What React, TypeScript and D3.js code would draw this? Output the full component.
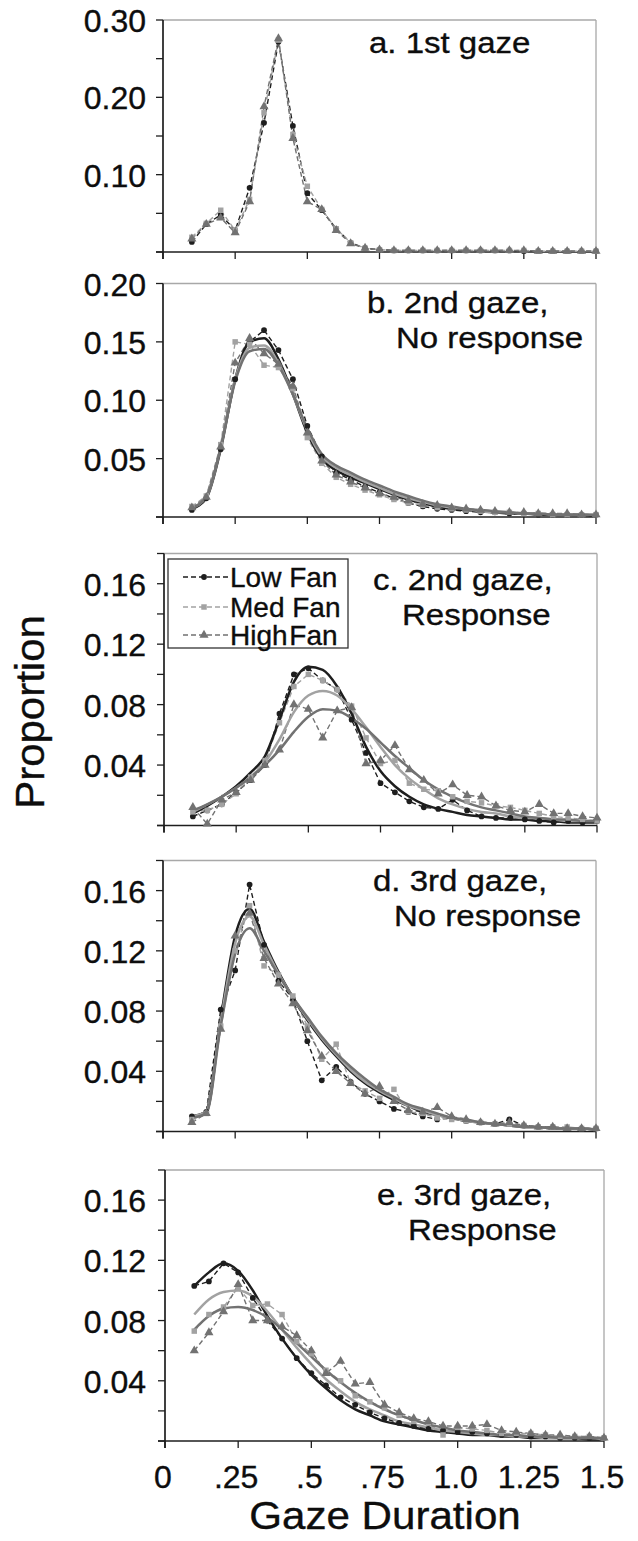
import React from 'react';
import * as d3 from 'd3';

// gaze duration bins (s)
const durations = [0.1, 0.15, 0.2, 0.25, 0.3, 0.35, 0.4, 0.45, 0.5, 0.55, 0.6, 0.65, 0.7, 0.75, 0.8, 0.85, 0.9, 0.95, 1.0, 1.05, 1.1, 1.15, 1.2, 1.25, 1.3, 1.35, 1.4, 1.45, 1.5];
const xTickValues = [0, 0.25, 0.5, 0.75, 1.0, 1.25, 1.5];
const xTickLabels = ['0', '.25', '.5', '.75', '1.0', '1.25', '1.5'];
const fanLevels = ['Low Fan', 'Med Fan', 'High Fan'];

// a. 1st gaze
const aLow = [0.013, 0.036, 0.048, 0.028, 0.083, 0.167, 0.272, 0.163, 0.076, 0.054, 0.030, 0.012, 0.005, 0.003, 0.002, 0.002, 0.002, 0.002, 0.002, 0.002, 0.002, 0.002, 0.002, 0.001, 0.001, 0.001, 0.001, 0.001, 0.001];
const aMed = [0.019, 0.037, 0.054, 0.028, 0.068, 0.180, 0.274, 0.152, 0.085, 0.055, 0.030, 0.012, 0.005, 0.003, 0.002, 0.002, 0.002, 0.002, 0.002, 0.002, 0.002, 0.002, 0.002, 0.002, 0.001, 0.001, 0.001, 0.001, 0.001];
const aHigh = [0.017, 0.036, 0.044, 0.025, 0.065, 0.188, 0.276, 0.147, 0.065, 0.055, 0.028, 0.011, 0.005, 0.003, 0.002, 0.002, 0.002, 0.002, 0.002, 0.002, 0.002, 0.002, 0.002, 0.002, 0.001, 0.001, 0.001, 0.001, 0.001];

// b. 2nd gaze, no response
const bLow = [0.006, 0.016, 0.058, 0.118, 0.150, 0.160, 0.143, 0.118, 0.078, 0.052, 0.038, 0.032, 0.026, 0.021, 0.016, 0.012, 0.009, 0.007, 0.006, 0.005, 0.004, 0.004, 0.003, 0.003, 0.002, 0.002, 0.002, 0.002, 0.002];
const bMed = [0.009, 0.018, 0.062, 0.150, 0.148, 0.130, 0.128, 0.110, 0.068, 0.046, 0.034, 0.028, 0.023, 0.019, 0.015, 0.012, 0.010, 0.008, 0.007, 0.006, 0.005, 0.004, 0.004, 0.003, 0.003, 0.002, 0.002, 0.002, 0.002];
const bHigh = [0.008, 0.017, 0.060, 0.132, 0.153, 0.140, 0.131, 0.112, 0.072, 0.048, 0.036, 0.030, 0.025, 0.020, 0.017, 0.014, 0.011, 0.010, 0.008, 0.007, 0.006, 0.005, 0.004, 0.004, 0.003, 0.003, 0.003, 0.002, 0.002];
const bModelLow = [0.007, 0.016, 0.058, 0.118, 0.150, 0.153, 0.135, 0.105, 0.072, 0.050, 0.040, 0.034, 0.029, 0.024, 0.019, 0.015, 0.012, 0.009, 0.007, 0.006, 0.005, 0.004, 0.003, 0.003, 0.002, 0.002, 0.002, 0.002, 0.001];
const bModelMed = [0.008, 0.017, 0.060, 0.118, 0.145, 0.147, 0.132, 0.105, 0.074, 0.052, 0.042, 0.036, 0.030, 0.025, 0.020, 0.016, 0.013, 0.010, 0.008, 0.007, 0.005, 0.004, 0.004, 0.003, 0.003, 0.002, 0.002, 0.002, 0.002];
const bModelHigh = [0.008, 0.017, 0.060, 0.116, 0.142, 0.144, 0.130, 0.105, 0.076, 0.054, 0.044, 0.038, 0.032, 0.027, 0.022, 0.018, 0.014, 0.011, 0.009, 0.007, 0.006, 0.005, 0.004, 0.003, 0.003, 0.002, 0.002, 0.002, 0.002];

// c. 2nd gaze, response
const cLow = [0.006, 0.010, 0.014, 0.022, 0.030, 0.040, 0.074, 0.100, 0.104, 0.096, 0.090, 0.070, 0.048, 0.028, 0.022, 0.016, 0.012, 0.011, 0.017, 0.010, 0.006, 0.005, 0.005, 0.004, 0.003, 0.002, 0.003, 0.002, 0.003];
const cMed = [0.009, 0.010, 0.014, 0.021, 0.032, 0.043, 0.068, 0.092, 0.100, 0.096, 0.090, 0.079, 0.058, 0.041, 0.043, 0.028, 0.024, 0.023, 0.019, 0.016, 0.015, 0.013, 0.012, 0.010, 0.008, 0.006, 0.005, 0.004, 0.003];
const cHigh = [0.012, 0.001, 0.017, 0.022, 0.030, 0.040, 0.050, 0.080, 0.077, 0.058, 0.076, 0.078, 0.041, 0.043, 0.053, 0.037, 0.030, 0.021, 0.027, 0.020, 0.019, 0.013, 0.010, 0.009, 0.014, 0.008, 0.008, 0.006, 0.005];
const cModelLow = [0.008, 0.013, 0.019, 0.026, 0.035, 0.046, 0.070, 0.095, 0.105, 0.103, 0.092, 0.074, 0.052, 0.036, 0.026, 0.019, 0.014, 0.011, 0.009, 0.007, 0.006, 0.005, 0.004, 0.004, 0.003, 0.003, 0.002, 0.002, 0.002];
const cModelMed = [0.009, 0.014, 0.019, 0.025, 0.032, 0.042, 0.057, 0.075, 0.086, 0.089, 0.086, 0.077, 0.065, 0.052, 0.040, 0.031, 0.024, 0.018, 0.014, 0.011, 0.009, 0.008, 0.006, 0.005, 0.005, 0.004, 0.003, 0.003, 0.003];
const cModelHigh = [0.010, 0.014, 0.019, 0.025, 0.032, 0.040, 0.050, 0.062, 0.072, 0.077, 0.076, 0.071, 0.064, 0.055, 0.046, 0.038, 0.030, 0.024, 0.019, 0.015, 0.012, 0.010, 0.008, 0.006, 0.005, 0.004, 0.004, 0.003, 0.003];

// d. 3rd gaze, no response
const dLow = [0.010, 0.013, 0.081, 0.107, 0.164, 0.124, 0.100, 0.088, 0.060, 0.034, 0.043, 0.033, 0.025, 0.020, 0.015, 0.013, 0.010, 0.008, 0.009, 0.007, 0.006, 0.005, 0.008, 0.004, 0.003, 0.003, 0.002, 0.002, 0.002];
const dMed = [0.008, 0.012, 0.070, 0.120, 0.150, 0.110, 0.104, 0.090, 0.070, 0.048, 0.058, 0.032, 0.027, 0.022, 0.028, 0.013, 0.012, 0.009, 0.008, 0.007, 0.006, 0.005, 0.005, 0.004, 0.003, 0.003, 0.003, 0.002, 0.002];
const dHigh = [0.006, 0.012, 0.068, 0.130, 0.145, 0.115, 0.098, 0.085, 0.067, 0.050, 0.040, 0.032, 0.025, 0.030, 0.020, 0.014, 0.013, 0.016, 0.010, 0.008, 0.006, 0.005, 0.006, 0.004, 0.003, 0.003, 0.002, 0.002, 0.002];
const dModelLow = [0.010, 0.013, 0.075, 0.130, 0.148, 0.126, 0.106, 0.089, 0.074, 0.061, 0.050, 0.040, 0.032, 0.026, 0.021, 0.017, 0.013, 0.011, 0.009, 0.007, 0.006, 0.005, 0.004, 0.003, 0.003, 0.002, 0.002, 0.002, 0.001];
const dModelMed = [0.010, 0.013, 0.073, 0.125, 0.143, 0.124, 0.105, 0.089, 0.075, 0.062, 0.051, 0.041, 0.033, 0.027, 0.022, 0.017, 0.014, 0.011, 0.009, 0.007, 0.006, 0.005, 0.004, 0.003, 0.003, 0.002, 0.002, 0.002, 0.001];
const dModelHigh = [0.009, 0.012, 0.070, 0.118, 0.135, 0.120, 0.104, 0.089, 0.076, 0.063, 0.052, 0.043, 0.035, 0.028, 0.023, 0.018, 0.015, 0.012, 0.009, 0.008, 0.006, 0.005, 0.004, 0.003, 0.003, 0.002, 0.002, 0.002, 0.001];

// e. 3rd gaze, response
const eLow = [0.103, 0.106, 0.118, 0.112, 0.095, 0.080, 0.068, 0.055, 0.045, 0.037, 0.029, 0.024, 0.019, 0.015, 0.012, 0.010, 0.008, 0.007, 0.006, 0.006, 0.005, 0.004, 0.004, 0.003, 0.003, 0.002, 0.002, 0.002, 0.002];
const eMed = [0.073, 0.084, 0.089, 0.102, 0.090, 0.091, 0.084, 0.066, 0.058, 0.047, 0.040, 0.030, 0.026, 0.022, 0.017, 0.013, 0.012, 0.004, 0.009, 0.008, 0.007, 0.005, 0.005, 0.005, 0.004, 0.003, 0.003, 0.003, 0.002];
const eHigh = [0.060, 0.072, 0.086, 0.104, 0.080, 0.080, 0.076, 0.070, 0.060, 0.045, 0.053, 0.038, 0.039, 0.024, 0.019, 0.015, 0.013, 0.010, 0.010, 0.010, 0.011, 0.007, 0.006, 0.005, 0.004, 0.004, 0.003, 0.003, 0.002];
const eModelLow = [0.103, 0.112, 0.118, 0.113, 0.100, 0.083, 0.068, 0.055, 0.044, 0.035, 0.027, 0.021, 0.017, 0.013, 0.011, 0.009, 0.007, 0.006, 0.005, 0.004, 0.004, 0.003, 0.003, 0.002, 0.002, 0.002, 0.002, 0.001, 0.001];
const eModelMed = [0.084, 0.094, 0.099, 0.100, 0.096, 0.086, 0.074, 0.062, 0.051, 0.041, 0.033, 0.026, 0.021, 0.017, 0.013, 0.011, 0.009, 0.007, 0.006, 0.005, 0.004, 0.004, 0.003, 0.003, 0.002, 0.002, 0.002, 0.002, 0.001];
const eModelHigh = [0.074, 0.083, 0.088, 0.089, 0.087, 0.082, 0.074, 0.065, 0.056, 0.047, 0.039, 0.032, 0.026, 0.021, 0.017, 0.014, 0.011, 0.009, 0.007, 0.006, 0.005, 0.004, 0.004, 0.003, 0.003, 0.002, 0.002, 0.002, 0.002];

const panelTitles = [
  ['a. 1st gaze'],
  ['b. 2nd gaze,', 'No response'],
  ['c. 2nd gaze,', 'Response'],
  ['d. 3rd gaze,', 'No response'],
  ['e. 3rd gaze,', 'Response'],
];
const yMaxes = [0.30, 0.20, 0.18, 0.18, 0.18];
const yLabelTicks = [
  [0.10, 0.20, 0.30],
  [0.05, 0.10, 0.15, 0.20],
  [0.04, 0.08, 0.12, 0.16],
  [0.04, 0.08, 0.12, 0.16],
  [0.04, 0.08, 0.12, 0.16],
];
const yMinorSteps = [0.05, 0.05, 0.02, 0.02, 0.02];

const panelData = [
  { data: [aLow, aMed, aHigh], model: [] as number[][] },
  { data: [bLow, bMed, bHigh], model: [bModelLow, bModelMed, bModelHigh] },
  { data: [cLow, cMed, cHigh], model: [cModelLow, cModelMed, cModelHigh] },
  { data: [dLow, dMed, dHigh], model: [dModelLow, dModelMed, dModelHigh] },
  { data: [eLow, eMed, eHigh], model: [eModelLow, eModelMed, eModelHigh] },
];

// layout (pixels)
const frames = [
  { left: 163, right: 596, top: 20, bottom: 252 },
  { left: 163, right: 596, top: 283.5, bottom: 517 },
  { left: 164, right: 597, top: 553.5, bottom: 825.5 },
  { left: 163, right: 596, top: 860.5, bottom: 1131.5 },
  { left: 165, right: 604, top: 1170, bottom: 1441 },
];
const titlePos = [
  [[369, 53]],
  [[367, 313], [396, 348]],
  [[373, 590], [402, 625]],
  [[373, 891], [394, 926]],
  [[377, 1205], [408, 1240]],
];

const FONT = '"Liberation Sans", Arial, Helvetica, sans-serif';
const INK = '#0d0d0d';
const DARK = '#1e1e1e';
const seriesColors = ['#1e1e1e', '#a2a2a2', '#727272'];
const TICK = 7;

const markerPath = (i: number) => {
  if (i === 1) return d3.symbol().type(d3.symbolSquare).size(30)()!;
  if (i === 2) return d3.symbol().type(d3.symbolTriangle).size(36)()!;
  return d3.symbol().type(d3.symbolCircle).size(26)()!;
};

const textStyle = { fontFamily: FONT, fill: INK, stroke: INK, strokeWidth: 0.35 };

function Panel({ idx }: { idx: number }) {
  const f = frames[idx];
  const x = d3.scaleLinear().domain([0, 1.5]).range([f.left, f.right]);
  const y = d3.scaleLinear().domain([0, yMaxes[idx]]).range([f.bottom, f.top]);
  const dataLine = d3.line<number>().x((_, i) => x(durations[i])).y(d => y(d));
  const modelLine = d3.line<number>().x((_, i) => x(durations[i])).y(d => y(d)).curve(d3.curveMonotoneX);
  const step = yMinorSteps[idx];
  const nMinor = Math.round(yMaxes[idx] / step);
  const minorTicks = d3.range(nMinor + 1).map(k => k * step);
  const fmt = d3.format('.2f');
  const { data, model } = panelData[idx];

  return (
    <g>
      {/* frame */}
      <line x1={f.left} x2={f.right} y1={f.top} y2={f.top} stroke="#a8a8a8" strokeWidth={1.3} />
      <line x1={f.right} x2={f.right} y1={f.top} y2={f.bottom} stroke="#a8a8a8" strokeWidth={1.3} />
      <line x1={f.left - TICK} x2={f.right} y1={f.bottom} y2={f.bottom} stroke={DARK} strokeWidth={1.7} />
      <line x1={f.left} x2={f.left} y1={f.top} y2={f.bottom + TICK} stroke={DARK} strokeWidth={1.7} />
      {minorTicks.map(t => (
        <line key={t} x1={f.left - TICK} x2={f.left} y1={y(t)} y2={y(t)} stroke={DARK} strokeWidth={1.3} />
      ))}
      {xTickValues.map(t => (
        <line key={t} x1={x(t)} x2={x(t)} y1={f.bottom} y2={f.bottom + TICK} stroke={DARK} strokeWidth={1.3} />
      ))}
      {yLabelTicks[idx].map(t => (
        <text key={t} x={146} y={y(t) + 12} textAnchor="end" fontSize={32} style={textStyle}>{fmt(t)}</text>
      ))}
      {panelTitles[idx].map((s, i) => (
        <text key={s} transform={`translate(${titlePos[idx][i][0]},${titlePos[idx][i][1]}) scale(1.1,1)`}
          fontSize={30} style={textStyle}>{s}</text>
      ))}
      {/* observed proportions */}
      {data.map((s, i) => (
        <path key={'d' + i} d={dataLine(s)!} fill="none" stroke={seriesColors[i]} strokeWidth={1.4} strokeDasharray="5 3" />
      ))}
      {/* model predictions */}
      {model.map((s, i) => (
        <path key={'m' + i} d={modelLine(s)!} fill="none" stroke={seriesColors[i]} strokeWidth={2.5} />
      ))}
      {data.map((s, i) => (
        <g key={'p' + i} fill={seriesColors[i]}>
          {s.map((v, j) => (
            <path key={j} d={markerPath(i)} transform={`translate(${x(durations[j])},${y(v)})`} />
          ))}
        </g>
      ))}
    </g>
  );
}

function Legend() {
  const rows = [577, 607, 635];
  return (
    <g>
      <rect x={168} y={559} width={180} height={89} fill="#fff" stroke="#333" strokeWidth={1.3} />
      {fanLevels.map((name, i) => (
        <g key={name}>
          <line x1={183} x2={228} y1={rows[i]} y2={rows[i]} stroke={seriesColors[i]} strokeWidth={1.3} strokeDasharray="5 3" />
          <path d={markerPath(i)} transform={`translate(204,${rows[i]})`} fill={seriesColors[i]} />
          <text x={230} y={rows[i] + 10} fontSize={28} wordSpacing={i === 2 ? -6 : 0} style={textStyle}>{name}</text>
        </g>
      ))}
    </g>
  );
}

export default function App() {
  const xe = d3.scaleLinear().domain([0, 1.5]).range([frames[4].left, frames[4].right]);
  return (
    <svg width={638} height={1541} style={{ position: 'absolute', left: 0, top: 0, background: '#fff' }}>
      {panelTitles.map((_, i) => <Panel key={i} idx={i} />)}
      <Legend />
      {xTickValues.map((t, i) => (
        <text key={t} x={xe(t) - 2} y={1488} textAnchor="middle" fontSize={32} style={textStyle}>
          {xTickLabels[i]}
        </text>
      ))}
      <text transform="translate(44,712) rotate(-90) scale(1.05,1)" textAnchor="middle" fontSize={40}
        style={textStyle}>Proportion</text>
      <text transform="translate(385,1529) scale(1.08,1)" textAnchor="middle" fontSize={39}
        style={textStyle}>Gaze Duration</text>
    </svg>
  );
}
